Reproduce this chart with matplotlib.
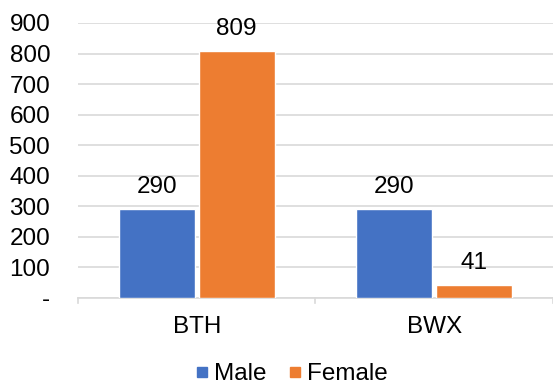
import matplotlib
matplotlib.use("Agg")
import matplotlib.pyplot as plt
from matplotlib.lines import Line2D
import numpy as np

categories = ["BTH", "BWX"]
male = [290, 290]
female = [809, 41]
series_names = ["Male", "Female"]
colors = ["#4472C4", "#ED7D31"]
yticks = [0, 100, 200, 300, 400, 500, 600, 700, 800, 900]
ytick_labels = ["-", "100", "200", "300", "400", "500", "600", "700", "800", "900"]

plt.rcParams["font.family"] = ["Liberation Sans", "DejaVu Sans"]
FS = 17.5

fig = plt.figure(figsize=(5.53, 3.87), dpi=100)
ax = fig.add_axes([0.141, 0.23, 0.859, 0.7106])

x = np.arange(len(categories))
w = 0.32
off = 0.168
for vals, c, dx in [(male, colors[0], -off), (female, colors[1], off)]:
    bars = ax.bar(x + dx, vals, width=w, color=c, edgecolor="white", linewidth=1.0, zorder=3)
    for b, v in zip(bars, vals):
        ax.annotate(f"{v:,}", (b.get_x() + b.get_width() / 2, v),
                    xytext=(0, 8), textcoords="offset points",
                    ha="center", va="bottom", fontsize=FS, color="black", zorder=4)

ax.set_xlim(-0.5, 1.5)
ax.set_ylim(0, 900)
ax.set_yticks(yticks)
ax.set_yticklabels(ytick_labels, fontsize=FS)
ax.yaxis.grid(True, color="#D9D9D9", linewidth=1.2, zorder=0)
ax.tick_params(axis="y", length=0, pad=20)

ax.set_xticks(x)
ax.set_xticklabels(categories, fontsize=FS)
ax.tick_params(axis="x", length=0, pad=13)
for xb in [-0.5, 0.5, 1.5]:
    ax.plot([xb, xb], [0, -0.02], transform=ax.get_xaxis_transform(),
            color="#D9D9D9", linewidth=1.2, clip_on=False)

for s in ["top", "right", "left"]:
    ax.spines[s].set_visible(False)
ax.spines["bottom"].set_color("#D9D9D9")
ax.spines["bottom"].set_linewidth(1.2)

handles = [Line2D([], [], marker="s", linestyle="none", markersize=7,
                  markerfacecolor=c, markeredgecolor=c) for c in colors]
fig.legend(handles, series_names, loc="center", bbox_to_anchor=(290 / 553, 1 - 374 / 387),
           ncol=2, frameon=False, fontsize=FS, handletextpad=0.1, columnspacing=0.8,
           handlelength=0.8, borderpad=0.0)

fig.savefig("out.png", dpi=100)
